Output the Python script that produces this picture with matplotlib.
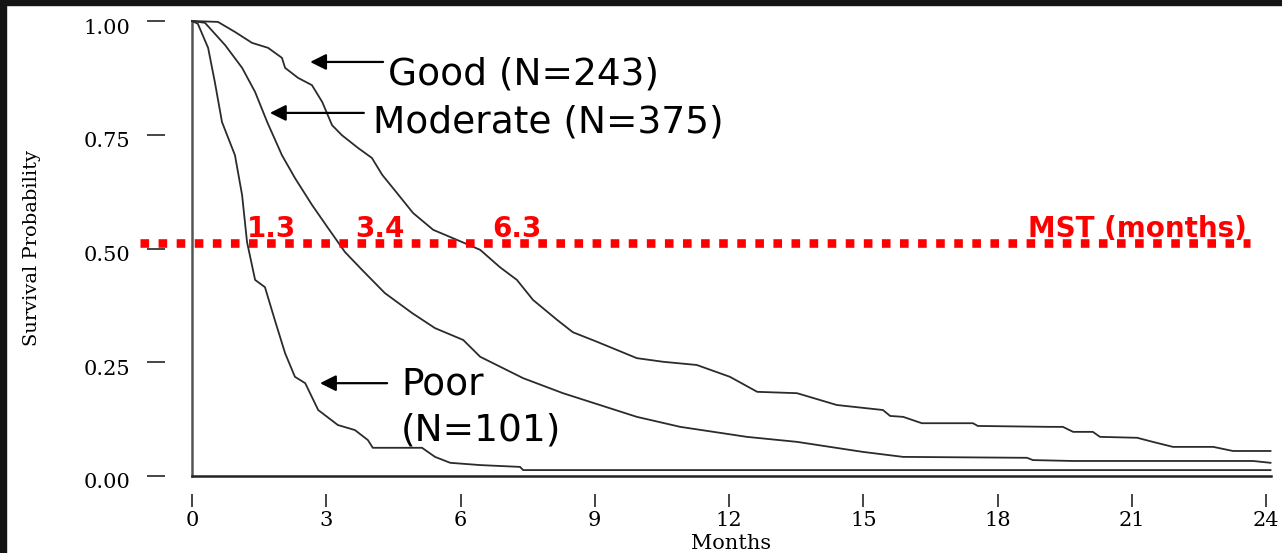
import numpy as np
import matplotlib.pyplot as plt
from matplotlib.transforms import ScaledTranslation
from matplotlib.patches import Rectangle

# Kaplan-Meier curves (months, survival probability)
good_months = [0, 0.58, 0.96, 1.34, 1.70, 2.01, 2.08, 2.37, 2.68, 2.91, 3.13, 3.35, 3.71,
               4.02, 4.25, 4.58, 4.94, 5.39, 5.92, 6.44, 6.88, 7.26, 7.62, 8.16, 8.51,
               9.05, 9.94, 10.53, 11.28, 12.02, 12.63, 13.52, 14.41, 15.44, 15.60, 15.89,
               16.31, 17.45, 17.56, 19.17, 19.46, 19.69, 20.13, 20.29, 21.12, 21.47,
               21.92, 22.82, 23.26, 24.1]
good_surv = [1.0, 0.998, 0.976, 0.952, 0.941, 0.919, 0.897, 0.875, 0.859, 0.822, 0.771,
             0.749, 0.721, 0.699, 0.662, 0.622, 0.578, 0.541, 0.519, 0.497, 0.459, 0.431,
             0.387, 0.343, 0.316, 0.295, 0.259, 0.251, 0.244, 0.218, 0.185, 0.182, 0.156,
             0.145, 0.132, 0.130, 0.116, 0.116, 0.110, 0.108, 0.108, 0.097, 0.097, 0.086,
             0.084, 0.075, 0.064, 0.064, 0.055, 0.055]

moderate_months = [0, 0.29, 0.74, 1.12, 1.41, 1.68, 2.01, 2.30, 2.68, 3.04, 3.42, 3.80,
                   4.31, 4.92, 5.43, 6.06, 6.44, 7.40, 8.29, 9.94, 10.91, 12.40, 13.52,
                   14.99, 15.89, 18.66, 18.79, 19.69, 23.71, 24.1]
moderate_surv = [1.0, 0.996, 0.947, 0.897, 0.844, 0.778, 0.705, 0.655, 0.596, 0.545, 0.492,
                 0.453, 0.402, 0.358, 0.325, 0.299, 0.262, 0.215, 0.182, 0.130, 0.108,
                 0.086, 0.075, 0.053, 0.042, 0.040, 0.035, 0.033, 0.033, 0.029]

poor_months = [0, 0.13, 0.36, 0.51, 0.67, 0.96, 1.12, 1.23, 1.41, 1.63, 1.85, 2.08, 2.30,
               2.53, 2.82, 3.26, 3.64, 3.93, 4.04, 5.14, 5.43, 5.77, 6.44, 7.33, 7.40, 24.1]
poor_surv = [1.0, 0.994, 0.941, 0.866, 0.778, 0.705, 0.617, 0.514, 0.431, 0.415, 0.343,
             0.270, 0.218, 0.204, 0.145, 0.112, 0.101, 0.079, 0.062, 0.062, 0.042, 0.029,
             0.024, 0.020, 0.013, 0.013]

group_labels = ["Good (N=243)", "Moderate (N=375)", "Poor\n(N=101)"]
mst_values = [1.3, 3.4, 6.3]
mst_title = "MST (months)"
mst_level = 0.513

x_ticks = [0, 3, 6, 9, 12, 15, 18, 21, 24]
y_ticks = [0.0, 0.25, 0.50, 0.75, 1.00]
y_tick_labels = ["0.00", "0.25", "0.50", "0.75", "1.00"]

W, H = 1282, 553
fig = plt.figure(figsize=(W / 100, H / 100), dpi=100)
fig.patch.set_facecolor("white")

# dark slide frame visible on top and left edges
fig.patches.append(Rectangle((0, 1 - 5 / H), 1, 5 / H, transform=fig.transFigure,
                             color="#141414", zorder=0))
fig.patches.append(Rectangle((0, 0), 6 / W, 1, transform=fig.transFigure,
                             color="#141414", zorder=0))

ax = fig.add_axes([192 / W, (H - 476) / H, (1270.5 - 192) / W, 455 / H])
ax.set_xlim(0, 24.1)
ax.set_ylim(0, 1)
ax.set_facecolor("none")

for s in ax.spines.values():
    s.set_visible(False)
ax.spines["left"].set_position(("outward", 19.4))
ax.spines["bottom"].set_position(("outward", 13))

# the real axis lines
ax.axvline(0, color="#555555", lw=1.8, clip_on=False)
ax.axhline(0, color="#222222", lw=1.8, clip_on=False)

curve_kw = dict(color="#2b2b2b", lw=1.3, clip_on=False)
ax.plot(good_months, good_surv, **curve_kw)
ax.plot(moderate_months, moderate_surv, **curve_kw)
ax.plot(poor_months, poor_surv, **curve_kw)

serif = "DejaVu Serif"
ax.set_xticks(x_ticks)
ax.set_xticklabels([str(t) for t in x_ticks], fontfamily=serif, fontsize=15)
ax.set_yticks(y_ticks)
ax.set_yticklabels(y_tick_labels, fontfamily=serif, fontsize=15)
ax.tick_params(axis="y", direction="out", length=13, width=1.4, color="#444444", pad=12)
ax.tick_params(axis="x", direction="out", length=9.5, width=1.4, color="#444444", pad=3)
for lab in ax.get_yticklabels():
    lab.set_transform(lab.get_transform() + ScaledTranslation(0, -0.05, fig.dpi_scale_trans))

ax.set_xlabel("Months", fontfamily=serif, fontsize=15)
ax.xaxis.set_label_coords(0.5, -0.128)
ax.set_ylabel("Survival Probability", fontfamily=serif, fontsize=14, va="center")
ax.yaxis.set_label_coords(-0.148, 0.5)

# median survival line and labels
ax.plot([-1.16, 23.64], [mst_level, mst_level], color="#ff0000", lw=6.2,
        ls=(0, (1.0, 1.1)), clip_on=False, zorder=5)
red_kw = dict(color="#ff0000", fontsize=20, fontweight="bold", va="baseline",
              fontfamily="DejaVu Sans", zorder=6)
for xpos, v in zip([1.23, 3.64, 6.70], mst_values):
    ax.text(xpos, 0.525, f"{v:.1f}", **red_kw)
ax.text(18.68, 0.525, mst_title, **red_kw)

# group annotations with arrows
arrow_kw = dict(arrowstyle="-|>", lw=1.6, color="black", mutation_scale=24,
                shrinkA=0, shrinkB=0)
label_kw = dict(fontsize=27, color="black", fontfamily="DejaVu Sans", va="center", ha="left")
ax.annotate("", xy=(2.64, 0.910), xytext=(4.27, 0.910), arrowprops=arrow_kw)
ax.text(4.38, 0.882, group_labels[0], **label_kw)
ax.annotate("", xy=(1.74, 0.798), xytext=(3.84, 0.798), arrowprops=arrow_kw)
ax.text(4.04, 0.778, group_labels[1], **label_kw)
ax.annotate("", xy=(2.86, 0.204), xytext=(4.36, 0.204), arrowprops=arrow_kw)
ax.text(4.67, 0.150, group_labels[2], linespacing=1.35, **label_kw)

fig.savefig("out.png", dpi=100)
